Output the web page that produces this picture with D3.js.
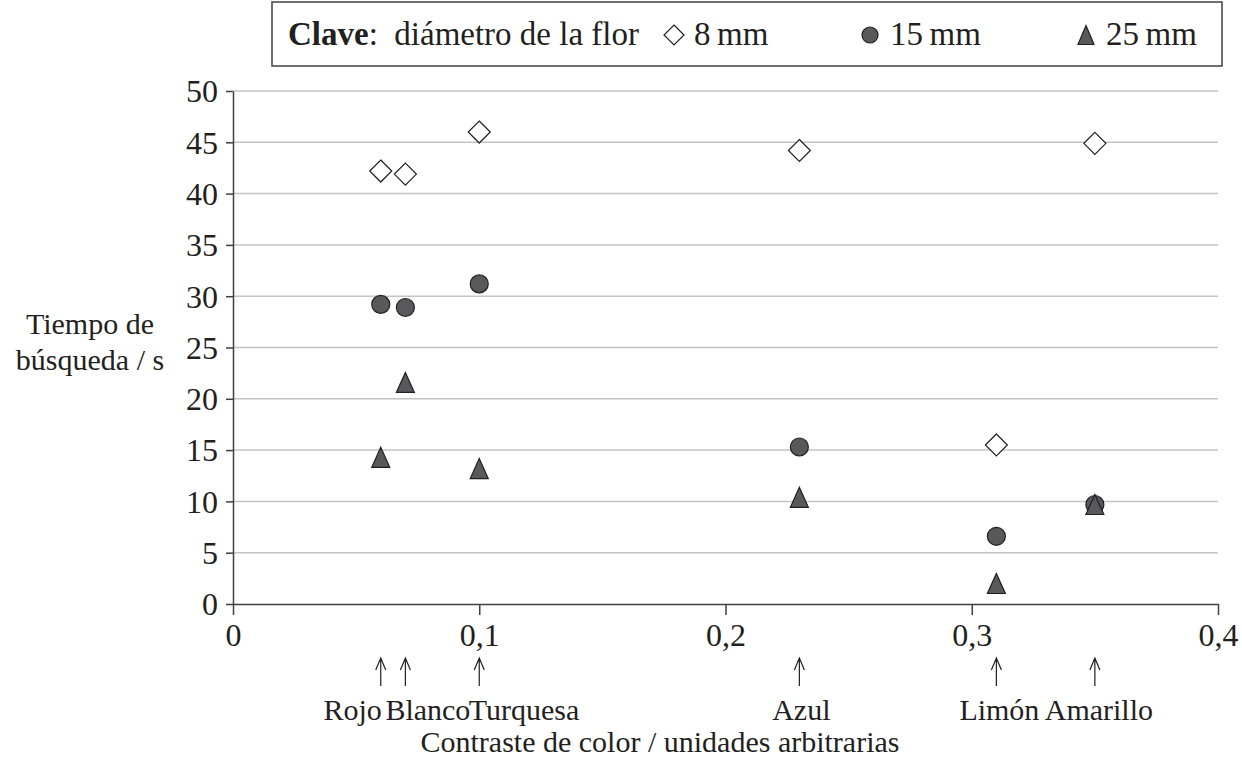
<!DOCTYPE html>
<html><head><meta charset="utf-8">
<script src="https://cdn.jsdelivr.net/npm/d3@7"></script>
<style>
html,body{margin:0;padding:0;background:#fff;}
text{font-family:"Liberation Serif","Times New Roman",serif;fill:#231f20;}
</style></head>
<body><svg id="c" width="1242" height="758"></svg>
<script>
const colours = ["Rojo","Blanco","Turquesa","Azul","Limón","Amarillo"];
const contrast = [0.06,0.07,0.10,0.23,0.31,0.35];
const time8mm  = [42.2,41.9,46.0,44.2,15.5,44.9];
const time15mm = [29.2,28.9,31.2,15.3,6.6,9.7];
const time25mm = [14.3,21.6,13.2,10.4,2.0,9.7];
const seriesNames = ["8\u2009mm","15\u2009mm","25\u2009mm"];
const yTicks = [0,5,10,15,20,25,30,35,40,45,50];
const xTicks = [0,0.1,0.2,0.3,0.4];
const xTickLabels = ["0","0,1","0,2","0,3","0,4"];

const svg = d3.select("#c");
const x = d3.scaleLinear().domain([0,0.4]).range([233,1218]);
const y = d3.scaleLinear().domain([0,50]).range([604,91]);
const FT = 32, FA = 30, FC = 30, FL = 33;
const ink = "#231f20", grey = "#58595b";

// gridlines
svg.append("g").selectAll("line").data(yTicks.filter(d=>d>0)).join("line")
  .attr("x1",x(0)).attr("x2",x(0.4)).attr("y1",d=>y(d)).attr("y2",d=>y(d))
  .attr("stroke","#c4c4c4").attr("stroke-width",1.5);

// y axis
const ya = svg.append("g").attr("transform",`translate(${x(0)},0)`)
  .call(d3.axisLeft(y).tickValues(yTicks).tickSize(7).tickSizeOuter(0));
ya.select(".domain").attr("stroke","#404040").attr("stroke-width",1.5);
ya.selectAll(".tick line").attr("stroke","#404040").attr("stroke-width",1.5);
ya.selectAll(".tick text").attr("font-size",FT).attr("font-family","Liberation Serif")
  .attr("fill",ink).attr("x",-15).attr("dy","0.34em");

// x axis
const xa = svg.append("g").attr("transform",`translate(0,${y(0)})`)
  .call(d3.axisBottom(x).tickValues(xTicks).tickFormat((d,i)=>xTickLabels[i]).tickSize(11).tickSizeOuter(0));
xa.select(".domain").attr("stroke","#404040").attr("stroke-width",1.5);
xa.selectAll(".tick line").attr("stroke","#404040").attr("stroke-width",1.5);
xa.selectAll(".tick text").attr("font-size",FT).attr("font-family","Liberation Serif")
  .attr("fill",ink).attr("y",42).attr("dy",0);

// markers
const diamond = s => `M0,${-s}L${s},0L0,${s}L${-s},0Z`;
const tri = (w,h) => `M0,${-h/2}L${w/2},${h/2}L${-w/2},${h/2}Z`;
const pts = (arr) => contrast.map((c,i)=>({x:c,v:arr[i]}));

svg.append("g").selectAll("circle").data(pts(time15mm)).join("circle")
  .attr("cx",d=>x(d.x)).attr("cy",d=>y(d.v)).attr("r",9)
  .attr("fill",grey).attr("stroke",ink).attr("stroke-width",1.2);
svg.append("g").selectAll("path").data(pts(time25mm)).join("path")
  .attr("d",tri(18,20)).attr("transform",d=>`translate(${x(d.x)},${y(d.v)})`)
  .attr("fill",grey).attr("stroke",ink).attr("stroke-width",1.2);
svg.append("g").selectAll("path").data(pts(time8mm)).join("path")
  .attr("d",diamond(11)).attr("transform",d=>`translate(${x(d.x)},${y(d.v)})`)
  .attr("fill","#fff").attr("stroke",ink).attr("stroke-width",1.2);

// arrows and category labels
const ag = svg.append("g");
contrast.forEach((c)=>{
  const cx = x(c);
  ag.append("path").attr("d",`M${cx},658L${cx},686M${cx-5},670L${cx},658L${cx+5},670`)
    .attr("fill","none").attr("stroke",ink).attr("stroke-width",1.2);
});
const labelAnchor = ["end","start","end","middle","middle","middle"];
const labelDx = [1,-20,100,2,3,4];
ag.selectAll("text").data(colours).join("text")
  .attr("x",(d,i)=>x(contrast[i])+labelDx[i]).attr("y",720)
  .attr("text-anchor",(d,i)=>labelAnchor[i]).attr("font-size",FC).text(d=>d);

// axis titles
svg.append("text").attr("x",660).attr("y",752).attr("text-anchor","middle")
  .attr("font-size",FA).text("Contraste de color / unidades arbitrarias");
svg.append("text").attr("x",90).attr("y",334).attr("text-anchor","middle").attr("font-size",FA).text("Tiempo de");
svg.append("text").attr("x",90).attr("y",370).attr("text-anchor","middle").attr("font-size",FA).text("búsqueda / s");

// legend
const lg = svg.append("g");
lg.append("rect").attr("x",272).attr("y",2).attr("width",950).attr("height",64)
  .attr("fill","#fff").attr("stroke","#404040").attr("stroke-width",1.5);
const lt = lg.append("text").attr("x",288).attr("y",45).attr("font-size",FL);
lt.append("tspan").attr("font-weight","bold").text("Clave");
lt.append("tspan").text(":\u00a0 diámetro de la flor");
const legX = [674,870,1086];
lg.append("path").attr("d",diamond(10)).attr("transform",`translate(${legX[0]},35)`)
  .attr("fill","#fff").attr("stroke",ink).attr("stroke-width",1.2);
lg.append("circle").attr("cx",legX[1]).attr("cy",35).attr("r",8)
  .attr("fill",grey).attr("stroke",ink).attr("stroke-width",1.2);
lg.append("path").attr("d",tri(16,19)).attr("transform",`translate(${legX[2]},35)`)
  .attr("fill",grey).attr("stroke",ink).attr("stroke-width",1.2);
lg.selectAll("text.s").data(seriesNames).join("text").attr("class","s")
  .attr("x",(d,i)=>legX[i]+20).attr("y",45).attr("font-size",FL).text(d=>d);
</script></body></html>
